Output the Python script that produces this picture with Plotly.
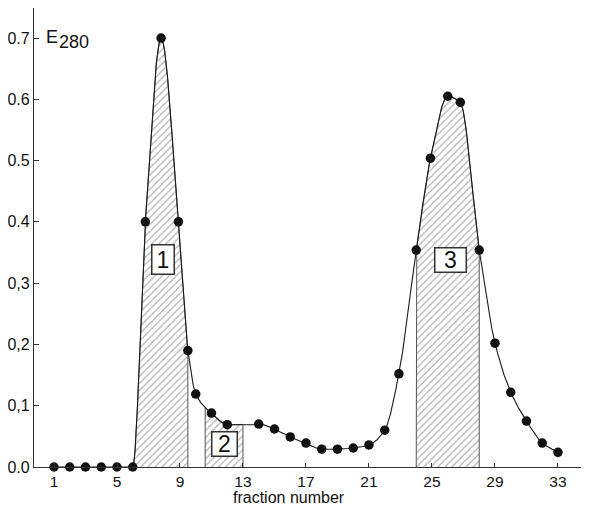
import numpy as np
import plotly.graph_objects as go

# ---- data ----
fraction = [1, 2, 3, 4, 5, 6, 6.8, 7.8, 8.9, 9.5, 10, 11, 12, 14, 15, 16, 17, 18, 19, 20,
            21, 22, 22.9, 24, 24.9, 26, 26.8, 28, 29, 30, 31, 32, 33]
e280 = [0, 0, 0, 0, 0, 0, 0.40, 0.70, 0.40, 0.19, 0.119, 0.088, 0.069, 0.070, 0.062, 0.049,
        0.039, 0.029, 0.029, 0.031, 0.036, 0.060, 0.152, 0.354, 0.504, 0.605, 0.595, 0.354,
        0.202, 0.122, 0.075, 0.039, 0.024]
peak_labels = ["1", "2", "3"]
peak_ranges = [(6, 9.5), (10.6, 13), (24, 28)]
label_pos_x = [7.95, 11.85, 26.2]
label_pos_y = [0.338, 0.037, 0.337]
x_tickvals = [1, 5, 9, 13, 17, 21, 25, 29, 33]
y_tickvals = [0.0, 0.1, 0.2, 0.3, 0.4, 0.5, 0.6, 0.7]
y_ticktext = ["0.0", "0,1", "0,2", "0,3", "0.4", "0.5", "0.6", "0.7"]

# label box sizes (px)
box_w = [17, 20, 26]
box_h = [24, 19, 19]


def pchip(x, y, xs):
    x = np.asarray(x, float); y = np.asarray(y, float)
    h = np.diff(x); d = np.diff(y) / h
    n = len(x); m = np.zeros(n)
    for k in range(1, n - 1):
        if d[k - 1] * d[k] <= 0:
            m[k] = 0.0
        else:
            w1 = 2 * h[k] + h[k - 1]; w2 = h[k] + 2 * h[k - 1]
            m[k] = (w1 + w2) / (w1 / d[k - 1] + w2 / d[k])
    m[0] = d[0]; m[-1] = d[-1]
    xs = np.asarray(xs, float)
    idx = np.clip(np.searchsorted(x, xs) - 1, 0, n - 2)
    t = (xs - x[idx]) / h[idx]
    h00 = 2 * t**3 - 3 * t**2 + 1; h10 = t**3 - 2 * t**2 + t
    h01 = -2 * t**3 + 3 * t**2; h11 = t**3 - t**2
    return h00 * y[idx] + h10 * h[idx] * m[idx] + h01 * y[idx + 1] + h11 * h[idx] * m[idx + 1]


xs = np.unique(np.concatenate([np.linspace(min(fraction), max(fraction), 1500), fraction]))
ys = pchip(fraction, e280, xs)

FONT = "Liberation Sans, Arial, sans-serif"
INK = "#111111"
fig = go.Figure()

# hatched peak areas
for (a, b) in peak_ranges:
    sel = (xs > a) & (xs < b)
    px = np.concatenate([[a, a], xs[sel], [b, b]])
    py = np.concatenate([[0], pchip(fraction, e280, [a]), ys[sel], pchip(fraction, e280, [b]), [0]])
    fig.add_trace(go.Scatter(
        x=px, y=py, mode="lines", fill="toself",
        line=dict(color="#555555", width=1),
        fillcolor="rgba(255,255,255,0)",
        fillpattern=dict(shape="/", fgcolor="#666666", bgcolor="white", size=5, solidity=0.25),
        hoverinfo="skip", showlegend=False))

# smooth curve
fig.add_trace(go.Scatter(x=xs, y=ys, mode="lines", line=dict(color="#1a1a1a", width=1.1),
                         hoverinfo="skip", showlegend=False, cliponaxis=False))
# measured points
fig.add_trace(go.Scatter(x=fraction, y=e280, mode="markers",
                         marker=dict(color=INK, size=9.5),
                         showlegend=False, cliponaxis=False))

annotations = []
for lab, lx, ly, bw, bh in zip(peak_labels, label_pos_x, label_pos_y, box_w, box_h):
    annotations.append(dict(x=lx, y=ly, text=lab, showarrow=False, width=bw, height=bh,
                            font=dict(family=FONT, size=23, color=INK),
                            bgcolor="white", bordercolor="#333333", borderwidth=1.5, borderpad=2))
annotations.append(dict(x=0.35, y=0.702, text="E", showarrow=False, xanchor="left", yanchor="middle",
                        font=dict(family=FONT, size=18, color=INK)))
annotations.append(dict(x=1.2, y=0.694, text="280", showarrow=False, xanchor="left", yanchor="middle",
                        font=dict(family=FONT, size=18, color=INK)))
annotations.append(dict(x=15.9, y=-0.0865, xref="x", yref="paper", text="fraction number",
                        showarrow=False, yanchor="bottom", borderpad=0,
                        font=dict(family=FONT, size=16, color=INK)))

# the page body has an 8px margin, so the figure is sized/offset to compensate
fig.update_layout(
    width=581, height=499,
    margin=dict(l=26, r=0, t=0, b=40, autoexpand=False),
    paper_bgcolor="white", plot_bgcolor="white",
    annotations=annotations,
    font=dict(family=FONT, color=INK),
    xaxis=dict(range=[-0.27, 34.97], tickvals=x_tickvals, ticks="inside", ticklen=4,
               tickcolor="#333333", showline=True, linecolor="#333333", linewidth=1.2,
               showgrid=False, zeroline=False, tickfont=dict(size=15.5, color=INK), automargin=False),
    yaxis=dict(range=[0, 0.749], tickvals=y_tickvals, ticktext=y_ticktext, ticks="inside",
               ticklen=5, tickcolor="#333333", showline=True, linecolor="#333333", linewidth=1.2,
               showgrid=False, zeroline=False, tickfont=dict(size=16, color=INK), automargin=False),
)

fig.write_html("out.html")
